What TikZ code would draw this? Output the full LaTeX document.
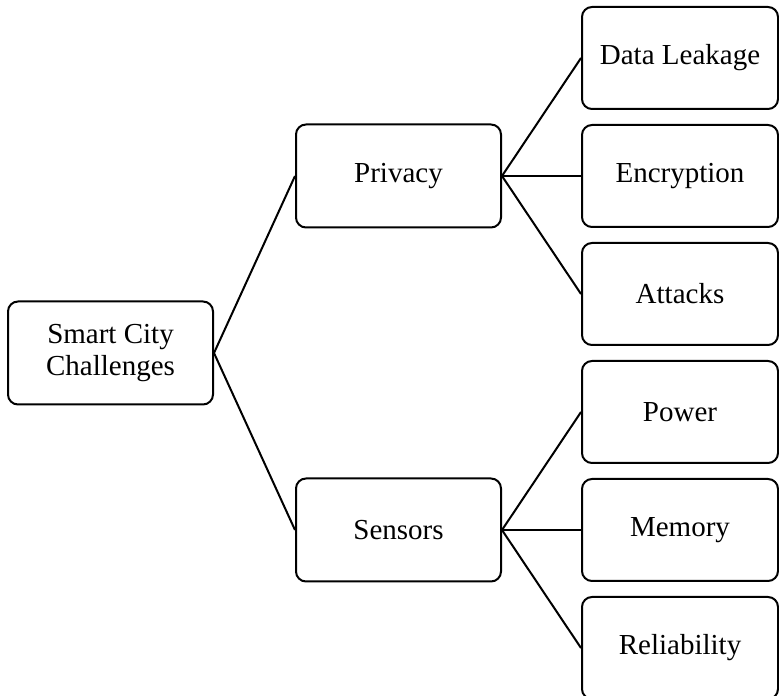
\documentclass[tikz,border=0pt]{standalone}
\usepackage{fontspec}
\setmainfont{Liberation Serif}
\usetikzlibrary{positioning,calc}
\tikzset{
    %Define style for boxes
    topic/.style={
           rectangle,
           rounded corners=10pt,
           draw=black, line width=2pt,
           minimum width=205pt,
           minimum height=103pt,
           font=\fontsize{29}{32}\selectfont,
           align=center},
    leaf/.style={
           topic,
           minimum width=196pt,
           minimum height=102pt},
    % Define line style
    link/.style={
           line width=2pt}
}
\begin{document}
\begin{tikzpicture}[x=1pt,y=1pt,node distance=14pt]
\useasboundingbox (0,0) rectangle (779,696);
 %leaves
\node[leaf] (leak) at (680,638) {Data Leakage};
\node[leaf, below=of leak] (encr) {Encryption};
\node[leaf, below=of encr] (attk) {Attacks};
\node[leaf, below=of attk] (powr) {Power};
\node[leaf, below=of powr] (memo) {Memory};
\node[leaf, below=of memo] (reli) {Reliability};
 %middle level
\node[topic, left=79pt of encr] (priv) {Privacy};
\node[topic, left=79pt of memo] (sens) {Sensors};
 %root
\coordinate (mid) at ($(priv.west)!0.5!(sens.west)$);
\node[topic, left=81pt of mid] (city) {Smart City\\Challenges};
 %links
\path[link]
    (city.east) edge (priv.west)
    (city.east) edge (sens.west)
    (priv.east) edge (leak.west)
    (priv.east) edge (encr.west)
    (priv.east) edge (attk.west)
    (sens.east) edge (powr.west)
    (sens.east) edge (memo.west)
    (sens.east) edge (reli.west);
\end{tikzpicture}
\end{document}
